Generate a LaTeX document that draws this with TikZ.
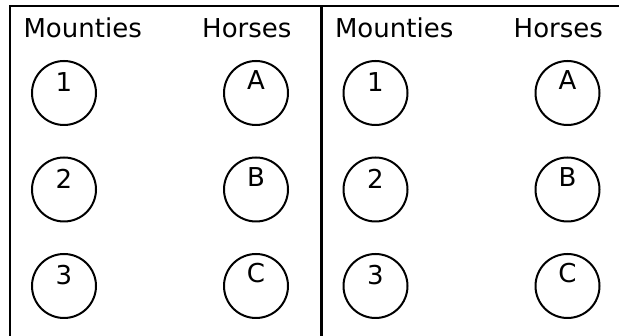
\documentclass[tikz,border=0pt]{standalone}
\usepackage{fontspec}
\setmainfont{DejaVu Sans}
\begin{document}
\begin{tikzpicture}
[
	x=1pt,
	y=-1pt,
	frame/.style={line width=2.4pt},
	seat/.style={circle,draw,line width=2pt,minimum size=64pt,inner sep=0pt},
	tag/.style={anchor=base,font=\fontsize{26}{31}\selectfont},
	head/.style={font=\fontsize{26}{31}\selectfont}
]

	\useasboundingbox (0,0) rectangle (619,336);

	% frame
	\coordinate (topleft) at (10,6);
	\coordinate (topright) at (619,6);
	\coordinate (bottomleft) at (10,336);
	\coordinate (midtop) at (321,6);
	\coordinate (midbottom) at (321,336);
	\draw[frame] (bottomleft) -- (topleft) -- (topright);
	\draw[frame,line width=3pt] (midtop) -- (midbottom);

	% headings
	\foreach \p/\dx in {l/0,r/311.5} {
		\node[head,anchor=base west] (mounties\p) at (20+\dx,38) {Mounties};
		\node[head,anchor=base east] (horses\p) at (295+\dx,38) {Horses};
	}

	% mounties and horses
	\foreach \p/\dx in {l/0,r/311.5} {
		\foreach \m/\h [count=\k] in {1/A,2/B,3/C} {
			\node[seat] (m\p\k) at (64+\dx,{93+96.5*(\k-1)}) {};
			\node[tag,yshift=1pt] (mtag\p\k) at (m\p\k.center) {\m};
			\node[seat] (h\p\k) at (256+\dx,{93+96.5*(\k-1)}) {};
			\node[tag,yshift=3pt] (htag\p\k) at (h\p\k.center) {\h};
		}
	}

\end{tikzpicture}
\end{document}
